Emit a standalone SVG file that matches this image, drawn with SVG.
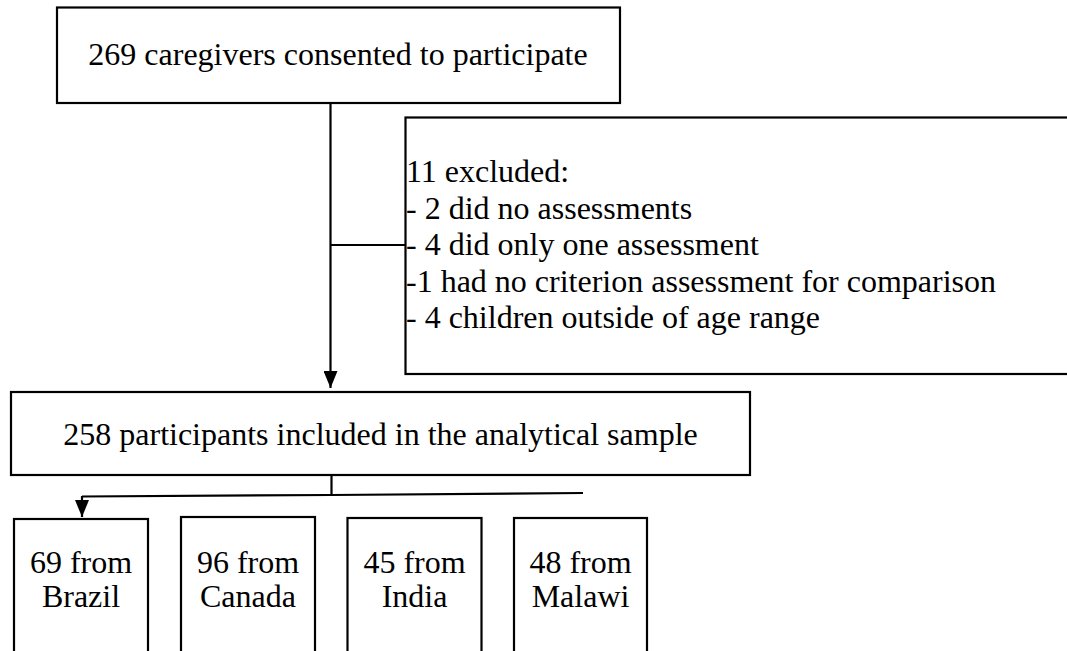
<svg xmlns="http://www.w3.org/2000/svg" width="1067" height="651" viewBox="0 0 1067 651">
<style>
.box{fill:#fff;stroke:#000;stroke-width:2.2}
.ln{fill:none;stroke:#000;stroke-width:2.2}
text{font-family:"Liberation Serif","Times New Roman",serif;font-size:32px;fill:#000}
.c{text-anchor:middle}
</style>
<defs>
<marker id="arr" viewBox="0 0 17 14" refX="17" refY="7" markerWidth="17" markerHeight="14" markerUnits="userSpaceOnUse" orient="auto">
<path d="M0,0 L17,7 L0,14 Z" fill="#000"/>
</marker>
</defs>
<g id="connectors">
<line class="ln" x1="330.5" y1="103" x2="330.5" y2="388" marker-end="url(#arr)"/>
<line class="ln" x1="330.5" y1="245" x2="406" y2="245"/>
<line class="ln" x1="331.5" y1="475" x2="331.5" y2="496"/>
<polyline class="ln" points="583,493 331.5,495 82,496.5"/>
<line class="ln" x1="82" y1="496" x2="82" y2="517" marker-end="url(#arr)"/>
</g>
<g id="n_consented">
<rect class="box" x="57" y="7.5" width="563" height="95.5"/>
<text x="338" y="65" class="c">269 caregivers consented to participate</text>
</g>
<g id="n_excluded">
<rect class="box" x="405.5" y="117.5" width="680" height="256.5"/>
<text x="406" y="182">11 excluded:</text>
<text x="406" y="218.5">- 2 did no assessments</text>
<text x="406" y="255">- 4 did only one assessment</text>
<text x="406" y="291.5">-1 had no criterion assessment for comparison</text>
<text x="406" y="328">- 4 children outside of age range</text>
</g>
<g id="n_sample">
<rect class="box" x="11" y="392" width="739" height="83"/>
<text x="380.5" y="445" class="c">258 participants included in the analytical sample</text>
</g>
<g id="n_brazil">
<rect class="box" x="14" y="519" width="134" height="150"/>
<text x="81" y="573" class="c">69 from</text>
<text x="81" y="607" class="c">Brazil</text>
</g>
<g id="n_canada">
<rect class="box" x="181" y="517" width="134" height="150"/>
<text x="248" y="573" class="c">96 from</text>
<text x="248" y="607" class="c">Canada</text>
</g>
<g id="n_india">
<rect class="box" x="347.5" y="518" width="134" height="150"/>
<text x="414.5" y="573" class="c">45 from</text>
<text x="414.5" y="607" class="c">India</text>
</g>
<g id="n_malawi">
<rect class="box" x="514" y="518" width="133" height="150"/>
<text x="580.5" y="573" class="c">48 from</text>
<text x="580.5" y="607" class="c">Malawi</text>
</g>
</svg>
